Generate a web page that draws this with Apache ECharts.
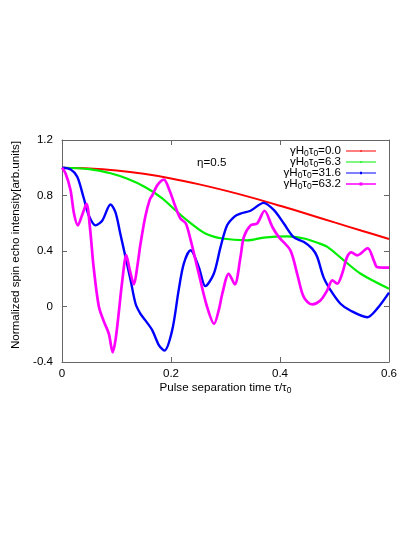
<!DOCTYPE html>
<html>
<head>
<meta charset="utf-8">
<script src="https://cdn.jsdelivr.net/npm/echarts@6/dist/echarts.min.js"></script>
<style>
  html, body { margin: 0; padding: 0; background: #fff; }
  #echart { width: 415px; height: 537px; }
</style>
</head>
<body>
<div id="echart"></div>
<script>
// series names (legend text)
var seriesNames = ["γH₀τ₀=0.0", "γH₀τ₀=6.3", "γH₀τ₀=31.6", "γH₀τ₀=63.2"];
var seriesColors = ["#ff0000", "#00ee00", "#0000ff", "#ff00ff"];

// axis ticks
var xTicks = [0, 0.2, 0.4, 0.6];
var yTicks = [-0.4, 0, 0.4, 0.8, 1.2];

// γH0τ0 = 0.0
var redT = [0, 0.05, 0.1, 0.15, 0.2, 0.25, 0.3, 0.35, 0.4, 0.45, 0.5, 0.55, 0.6];
var redV = [1.0, 0.995, 0.98, 0.956, 0.923, 0.882, 0.835, 0.783, 0.726, 0.667, 0.606, 0.546, 0.487];

// γH0τ0 = 6.3
var greenT = [0, 0.05, 0.089, 0.12, 0.153, 0.184, 0.208, 0.233, 0.263, 0.294, 0.34, 0.37, 0.413, 0.444, 0.473, 0.487, 0.517, 0.548, 0.6];
var greenV = [1.0, 0.99, 0.96, 0.92, 0.86, 0.78, 0.694, 0.61, 0.526, 0.49, 0.477, 0.497, 0.506, 0.49, 0.453, 0.43, 0.333, 0.236, 0.128];

// γH0τ0 = 31.6
var blueT = [0, 0.016, 0.028, 0.04, 0.049, 0.0615, 0.074, 0.089, 0.098, 0.107, 0.1165, 0.126, 0.135, 0.144, 0.153, 0.1655, 0.178, 0.188, 0.202, 0.214, 0.2235, 0.236, 0.251, 0.263, 0.2785, 0.291, 0.303, 0.317, 0.3275, 0.346, 0.37, 0.389, 0.407, 0.425, 0.444, 0.459, 0.468, 0.48, 0.493, 0.511, 0.529, 0.56, 0.578, 0.6];
var blueV = [1.0, 0.988, 0.935, 0.78, 0.658, 0.585, 0.62, 0.735, 0.68, 0.525, 0.356, 0.188, 0.02, -0.053, -0.1, -0.17, -0.28, -0.318, -0.174, 0.116, 0.309, 0.405, 0.284, 0.147, 0.236, 0.43, 0.585, 0.65, 0.67, 0.69, 0.747, 0.694, 0.598, 0.5, 0.465, 0.417, 0.36, 0.21, 0.116, 0.02, -0.029, -0.077, -0.017, 0.1];

// γH0τ0 = 63.2
var magentaT = [0, 0.0064, 0.0156, 0.022, 0.029, 0.037, 0.045, 0.051, 0.058, 0.0676, 0.077, 0.086, 0.093, 0.098, 0.104, 0.11, 0.118, 0.124, 0.132, 0.138, 0.144, 0.153, 0.161, 0.1655, 0.175, 0.187, 0.197, 0.208, 0.2174, 0.227, 0.236, 0.251, 0.266, 0.279, 0.288, 0.294, 0.306, 0.317, 0.3275, 0.3336, 0.346, 0.358, 0.3716, 0.386, 0.398, 0.419, 0.4315, 0.4437, 0.459, 0.474, 0.4866, 0.496, 0.505, 0.514, 0.523, 0.531, 0.5417, 0.561, 0.572, 0.578, 0.59, 0.6];
var magentaV = [1.0, 0.96, 0.84, 0.67, 0.585, 0.66, 0.74, 0.58, 0.284, 0.0, -0.11, -0.197, -0.33, -0.246, -0.05, 0.166, 0.37, 0.27, 0.16, 0.284, 0.45, 0.65, 0.77, 0.8, 0.875, 0.915, 0.84, 0.72, 0.634, 0.6, 0.48, 0.236, 0.0, -0.125, -0.02, 0.09, 0.236, 0.16, 0.356, 0.5, 0.585, 0.598, 0.69, 0.573, 0.5, 0.405, 0.236, 0.067, 0.015, 0.043, 0.116, 0.188, 0.164, 0.236, 0.356, 0.39, 0.369, 0.42, 0.333, 0.284, 0.28, 0.28];

function zip(ts, vs) {
  return ts.map(function (t, i) { return [t, vs[i]]; });
}

var font = "Liberation Sans";
var fs = 11.6;
var subStyle = {
  n: { fontFamily: font, fontSize: fs, color: "#000", lineHeight: 11 },
  s: { fontFamily: font, fontSize: 8.5, color: "#000", lineHeight: 11, padding: [5, 0, 0, 0] }
};

// 把 ₀ 变成下标
function subFormat(name) {
  var parts = name.split("₀");
  var out = "";
  parts.forEach(function (p, i) {
    if (p) out += "{n|" + p + "}";
    if (i < parts.length - 1) out += "{s|0}";
  });
  return out;
}

// legend icon: thin line with a point in the middle (30x8 box)
var legendIcons = [
  "path://M0,0M30,8M0,3.5h30v1h-30zM14.5,3h1v2h-1z",
  "path://M0,0M30,8M0,3.5h30v1h-30zM14.5,3h1v2h-1z",
  "path://M0,0M30,8M0,3.5h30v1h-30zM14,2.8h2v2.4h-2z",
  "path://M0,0M30,8M0,3.2h30v1.6h-30zM13.5,2.5h3v3h-3z"
];

var frameLine = { show: true, onZero: false, lineStyle: { color: "#666", width: 1 } };
var tickIn = { show: true, inside: true, length: 5, lineStyle: { color: "#666" } };

var chart = echarts.init(document.getElementById("echart"));
chart.setOption({
  animation: false,
  backgroundColor: "#fff",
  grid: { left: 62, right: 26, top: 140, bottom: 175 },
  legend: {
    orient: "vertical",
    right: 34,
    top: 139,
    align: "right",
    itemGap: -3,
    itemWidth: 30,
    itemHeight: 8,
    data: seriesNames.map(function (n, i) { return { name: n, icon: legendIcons[i] }; }),
    formatter: subFormat,
    textStyle: { rich: subStyle }
  },
  graphic: [
    {
      type: "text",
      left: 197,
      top: 157,
      style: { text: "η=0.5", font: fs + "px Liberation Sans", fill: "#000" }
    }
  ],
  xAxis: [
    {
      type: "value",
      min: xTicks[0],
      max: xTicks[xTicks.length - 1],
      interval: 0.2,
      name: subFormat("Pulse separation time τ/τ₀"),
      nameLocation: "middle",
      nameGap: 18,
      nameTextStyle: { rich: subStyle },
      axisLine: frameLine,
      axisTick: tickIn,
      axisLabel: { margin: 6, fontFamily: font, fontSize: fs, color: "#000" },
      splitLine: { show: false }
    },
    {
      type: "value",
      position: "top",
      min: xTicks[0],
      max: xTicks[xTicks.length - 1],
      interval: 0.2,
      axisLine: frameLine,
      axisTick: tickIn,
      axisLabel: { show: false },
      splitLine: { show: false }
    }
  ],
  yAxis: [
    {
      type: "value",
      min: yTicks[0],
      max: yTicks[yTicks.length - 1],
      interval: 0.4,
      name: "Normalized spin echo intensity[arb.units]",
      nameLocation: "middle",
      nameGap: 40,
      nameTextStyle: { fontFamily: font, fontSize: fs, color: "#000", padding: [0, 0, 0, 12] },
      axisLine: frameLine,
      axisTick: tickIn,
      axisLabel: { margin: 9, fontFamily: font, fontSize: fs, color: "#000" },
      splitLine: { show: false }
    },
    {
      type: "value",
      position: "right",
      min: yTicks[0],
      max: yTicks[yTicks.length - 1],
      interval: 0.4,
      axisLine: frameLine,
      axisTick: tickIn,
      axisLabel: { show: false },
      splitLine: { show: false }
    }
  ],
  series: [
    {
      name: seriesNames[0],
      type: "line",
      data: zip(redT, redV),
      smooth: 0.3,
      showSymbol: false,
      color: seriesColors[0],
      lineStyle: { width: 2 }
    },
    {
      name: seriesNames[1],
      type: "line",
      data: zip(greenT, greenV),
      smooth: 0.3,
      showSymbol: false,
      color: seriesColors[1],
      lineStyle: { width: 2.2 }
    },
    {
      name: seriesNames[2],
      type: "line",
      data: zip(blueT, blueV),
      smooth: 0.3,
      showSymbol: false,
      color: seriesColors[2],
      lineStyle: { width: 2.4 }
    },
    {
      name: seriesNames[3],
      type: "line",
      data: zip(magentaT, magentaV),
      smooth: 0.3,
      showSymbol: false,
      color: seriesColors[3],
      lineStyle: { width: 2.7 }
    }
  ]
});
</script>
</body>
</html>
